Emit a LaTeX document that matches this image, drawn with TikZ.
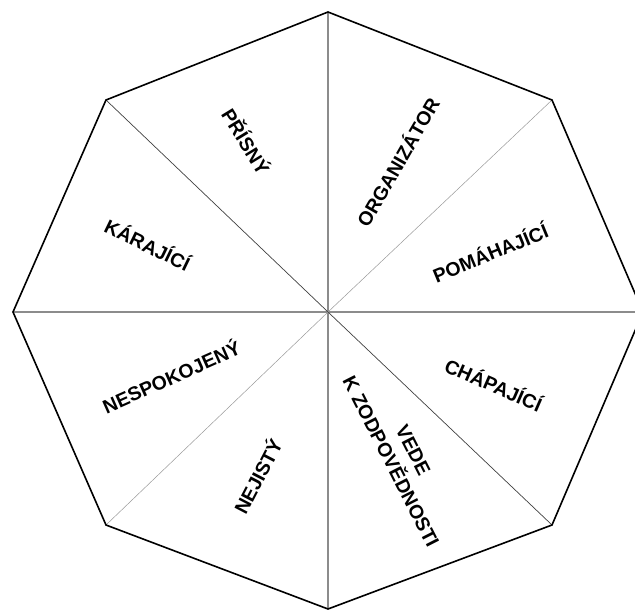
\documentclass[tikz,border=0pt]{standalone}
\usepackage{fontspec}
\setmainfont{Liberation Sans}
\begin{document}
\begin{tikzpicture}[x=1pt,y=-1pt,
  rim/.style={draw=black,line width=1.6pt,line join=miter},
  axisspoke/.style={draw=black!45,line width=1.4pt},
  darkspoke/.style={draw=black!75,line width=0.7pt},
  lightspoke/.style={draw=black!40,line width=0.5pt},
  lab/.style={font=\fontsize{19.5}{25}\selectfont\bfseries,inner sep=0pt,align=center}]
\useasboundingbox (0,0) rectangle (635,610);
\clip (0,0) rectangle (635,610);
\coordinate (C) at (328,312);
\coordinate (T) at (328,12);
\coordinate (TR) at (552,100);
\coordinate (R) at (643,312);
\coordinate (BR) at (552,525);
\coordinate (B) at (328,609);
\coordinate (BL) at (106,525);
\coordinate (L) at (13,312);
\coordinate (TL) at (106,100);
% spokes
\draw[axisspoke] (T) -- (B);
\draw[axisspoke] (L) -- (R);
\draw[darkspoke] (TL) -- (C) -- (BR);
\draw[lightspoke] (TR) -- (C) -- (BL);
% rim
\draw[rim] (T) -- (TR) -- (R) -- (BR) -- (B) -- (BL) -- (L) -- (TL) -- cycle;
% labels
\node[lab,rotate=-58.5] (prisny) at (247,141) {PŘÍSNÝ};
\node[lab,rotate=-25.8] (karajici) at (148,244) {KÁRAJÍCÍ};
\node[lab,rotate=60] (organizator) at (397,162) {ORGANIZÁTOR};
\node[lab,rotate=22.4] (pomahajici) at (490,252) {POMÁHAJÍCÍ};
\node[lab,rotate=24] (nespokojeny) at (171,376) {NESPOKOJENÝ};
\node[lab,rotate=62.5] (nejisty) at (257,476) {NEJISTÝ};
\node[lab,rotate=-23.6] (chapajici) at (494,384) {CHÁPAJÍCÍ};
\node[lab,rotate=-63] (vede) at (402,456) {VEDE\\K ZODPOVĚDNOSTI};
\end{tikzpicture}
\end{document}
